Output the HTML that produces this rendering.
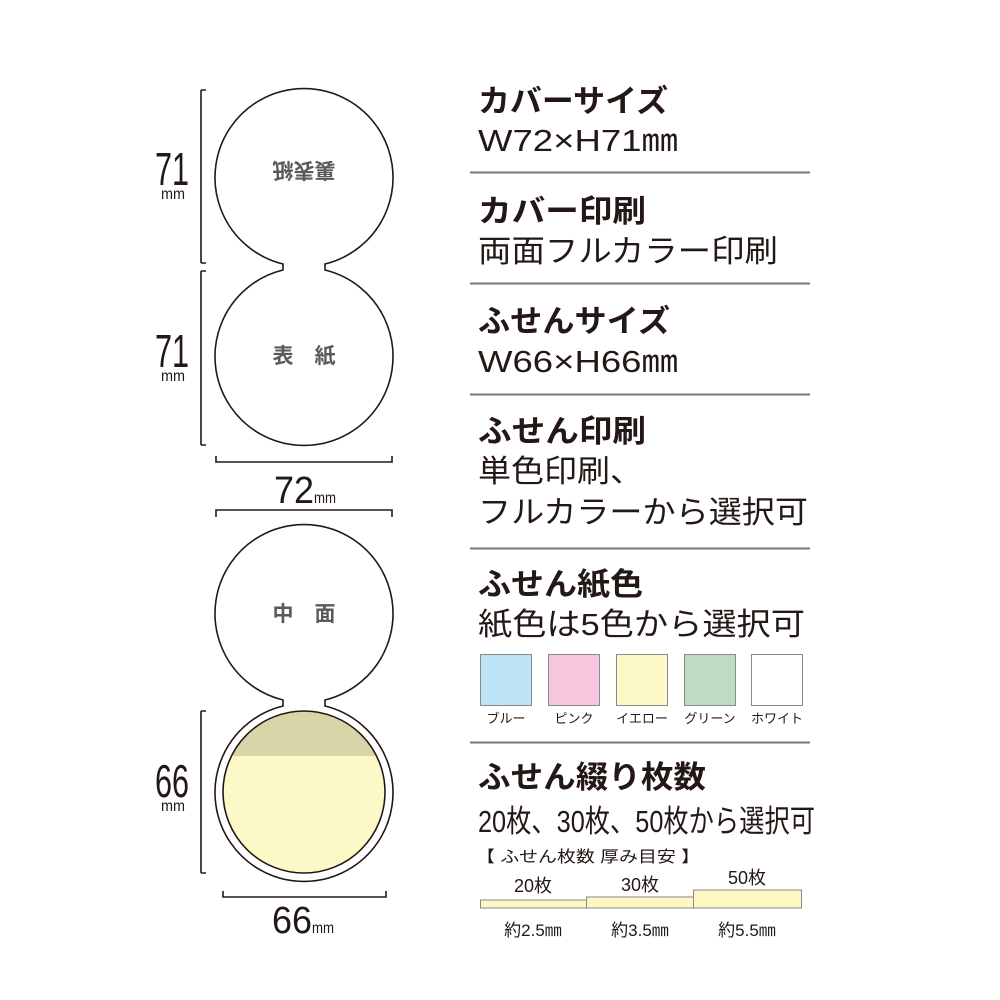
<!DOCTYPE html>
<html><head><meta charset="utf-8"><style>
html,body{margin:0;padding:0;background:#fff;}
svg{display:block;}
text{font-family:"Liberation Sans","Noto Sans CJK JP",sans-serif;fill:#231815;}
.h{font-size:31px;font-weight:bold;}
.b{font-size:31px;}
.g{fill:#5a5a5a;font-size:21px;font-weight:bold;}
.s{font-size:13px;}
</style></head><body>
<svg width="1000" height="1000" viewBox="0 0 1000 1000" xmlns="http://www.w3.org/2000/svg">
<g fill="none" stroke="#231815" stroke-width="1.6">
<path d="M283,264 A89,89 0 1,1 325,264 L325,270 A89,89 0 1,1 283,270 Z" fill="#fff"/>
<path d="M283,700 A89,89 0 1,1 325,700 L325,706 A89,89 0 1,1 283,706 Z" fill="#fff"/>
<path d="M201,90 H206 M201,90 V263 M201,263 H206 M201,271 H206 M201,271 V445 M201,445 H206"/>
<path d="M216,456 V462 H392 V456"/>
<path d="M216,517 V510 H392 V517"/>
<path d="M201,711 H206 M201,711 V873 M201,873 H206"/>
<path d="M223,891 V897 H386 V891"/>
</g>
<defs><clipPath id="c"><circle cx="304" cy="792" r="81"/></clipPath></defs>
<circle cx="304" cy="792" r="81" fill="#fdf9c6"/>
<rect x="220" y="705" width="170" height="51" fill="#d8d5a8" clip-path="url(#c)"/>
<circle cx="304" cy="792" r="81" fill="none" stroke="#231815" stroke-width="1.6"/>
<text class="g" x="304" y="177" text-anchor="middle" transform="rotate(180 304 170)">裏表紙</text>
<text class="g" x="304" y="363" text-anchor="middle">表　紙</text>
<text class="g" x="304" y="621" text-anchor="middle">中　面</text>
<text x="155" y="185" font-size="46" textLength="34" lengthAdjust="spacingAndGlyphs">71</text>
<text x="161" y="199" font-size="16" textLength="24" lengthAdjust="spacingAndGlyphs">mm</text>
<text x="155" y="367" font-size="46" textLength="34" lengthAdjust="spacingAndGlyphs">71</text>
<text x="161" y="381" font-size="16" textLength="24" lengthAdjust="spacingAndGlyphs">mm</text>
<text x="155" y="797" font-size="46" textLength="34" lengthAdjust="spacingAndGlyphs">66</text>
<text x="161" y="811" font-size="16" textLength="24" lengthAdjust="spacingAndGlyphs">mm</text>
<text x="274" y="503" font-size="38" textLength="40" lengthAdjust="spacingAndGlyphs">72</text><text x="314" y="503" font-size="16" textLength="22" lengthAdjust="spacingAndGlyphs">mm</text>
<text x="272" y="933" font-size="38" textLength="40" lengthAdjust="spacingAndGlyphs">66</text><text x="312" y="933" font-size="16" textLength="22" lengthAdjust="spacingAndGlyphs">mm</text>
<g stroke="#7a7a7a" stroke-width="2">
<line x1="470" y1="172.5" x2="810" y2="172.5"/><line x1="470" y1="283.5" x2="810" y2="283.5"/>
<line x1="470" y1="394.5" x2="810" y2="394.5"/><line x1="470" y1="548.5" x2="810" y2="548.5"/>
<line x1="470" y1="742.5" x2="810" y2="742.5"/>
</g>
<text class="h" x="478" y="112" textLength="190" lengthAdjust="spacingAndGlyphs">カバーサイズ</text>
<text class="b" x="478" y="151" textLength="200" lengthAdjust="spacingAndGlyphs">W72×H71㎜</text>
<text class="h" x="478" y="222" textLength="168" lengthAdjust="spacingAndGlyphs">カバー印刷</text>
<text class="b" x="478" y="262" textLength="300" lengthAdjust="spacingAndGlyphs">両面フルカラー印刷</text>
<text class="h" x="478" y="332" textLength="192" lengthAdjust="spacingAndGlyphs">ふせんサイズ</text>
<text class="b" x="478" y="372" textLength="200" lengthAdjust="spacingAndGlyphs">W66×H66㎜</text>
<text class="h" x="478" y="442" textLength="168" lengthAdjust="spacingAndGlyphs">ふせん印刷</text>
<text class="b" x="478" y="482" textLength="165" lengthAdjust="spacingAndGlyphs">単色印刷、</text>
<text class="b" x="478" y="523" textLength="330" lengthAdjust="spacingAndGlyphs">フルカラーから選択可</text>
<text class="h" x="478" y="595" textLength="165" lengthAdjust="spacingAndGlyphs">ふせん紙色</text>
<text class="b" x="478" y="635" textLength="327" lengthAdjust="spacingAndGlyphs">紙色は5色から選択可</text>
<g stroke="#8a8a8a" stroke-width="1">
<rect x="480.5" y="654.5" width="51" height="51" fill="#bde3f7"/>
<rect x="548.5" y="654.5" width="51" height="51" fill="#f7c6dc"/>
<rect x="616.5" y="654.5" width="51" height="51" fill="#fdf9c6"/>
<rect x="684.5" y="654.5" width="51" height="51" fill="#bedcc2"/>
<rect x="751.5" y="654.5" width="51" height="51" fill="#fff"/>
</g>
<text class="s" x="506" y="723" text-anchor="middle">ブルー</text>
<text class="s" x="574" y="723" text-anchor="middle">ピンク</text>
<text class="s" x="642" y="723" text-anchor="middle">イエロー</text>
<text class="s" x="710" y="723" text-anchor="middle">グリーン</text>
<text class="s" x="777" y="723" text-anchor="middle">ホワイト</text>
<text class="h" x="478" y="788" textLength="228" lengthAdjust="spacingAndGlyphs">ふせん綴り枚数</text>
<text class="b" x="478" y="832" textLength="337" lengthAdjust="spacingAndGlyphs">20枚、30枚、50枚から選択可</text>
<text x="476" y="862" font-size="16" textLength="224" lengthAdjust="spacingAndGlyphs">【 ふせん枚数 厚み目安 】</text>
<g stroke="#8a8a8a" stroke-width="1" fill="#fdf7c4">
<rect x="480.5" y="900" width="106" height="8"/>
<rect x="586.5" y="897" width="107" height="11"/>
<rect x="693.5" y="890" width="108" height="18"/>
</g>
<text x="533" y="892" font-size="18" text-anchor="middle">20枚</text>
<text x="640" y="891" font-size="18" text-anchor="middle">30枚</text>
<text x="747" y="884" font-size="18" text-anchor="middle">50枚</text>
<text x="533" y="936" font-size="17" text-anchor="middle">約2.5㎜</text>
<text x="640" y="936" font-size="17" text-anchor="middle">約3.5㎜</text>
<text x="747" y="936" font-size="17" text-anchor="middle">約5.5㎜</text>
</svg>
</body></html>
